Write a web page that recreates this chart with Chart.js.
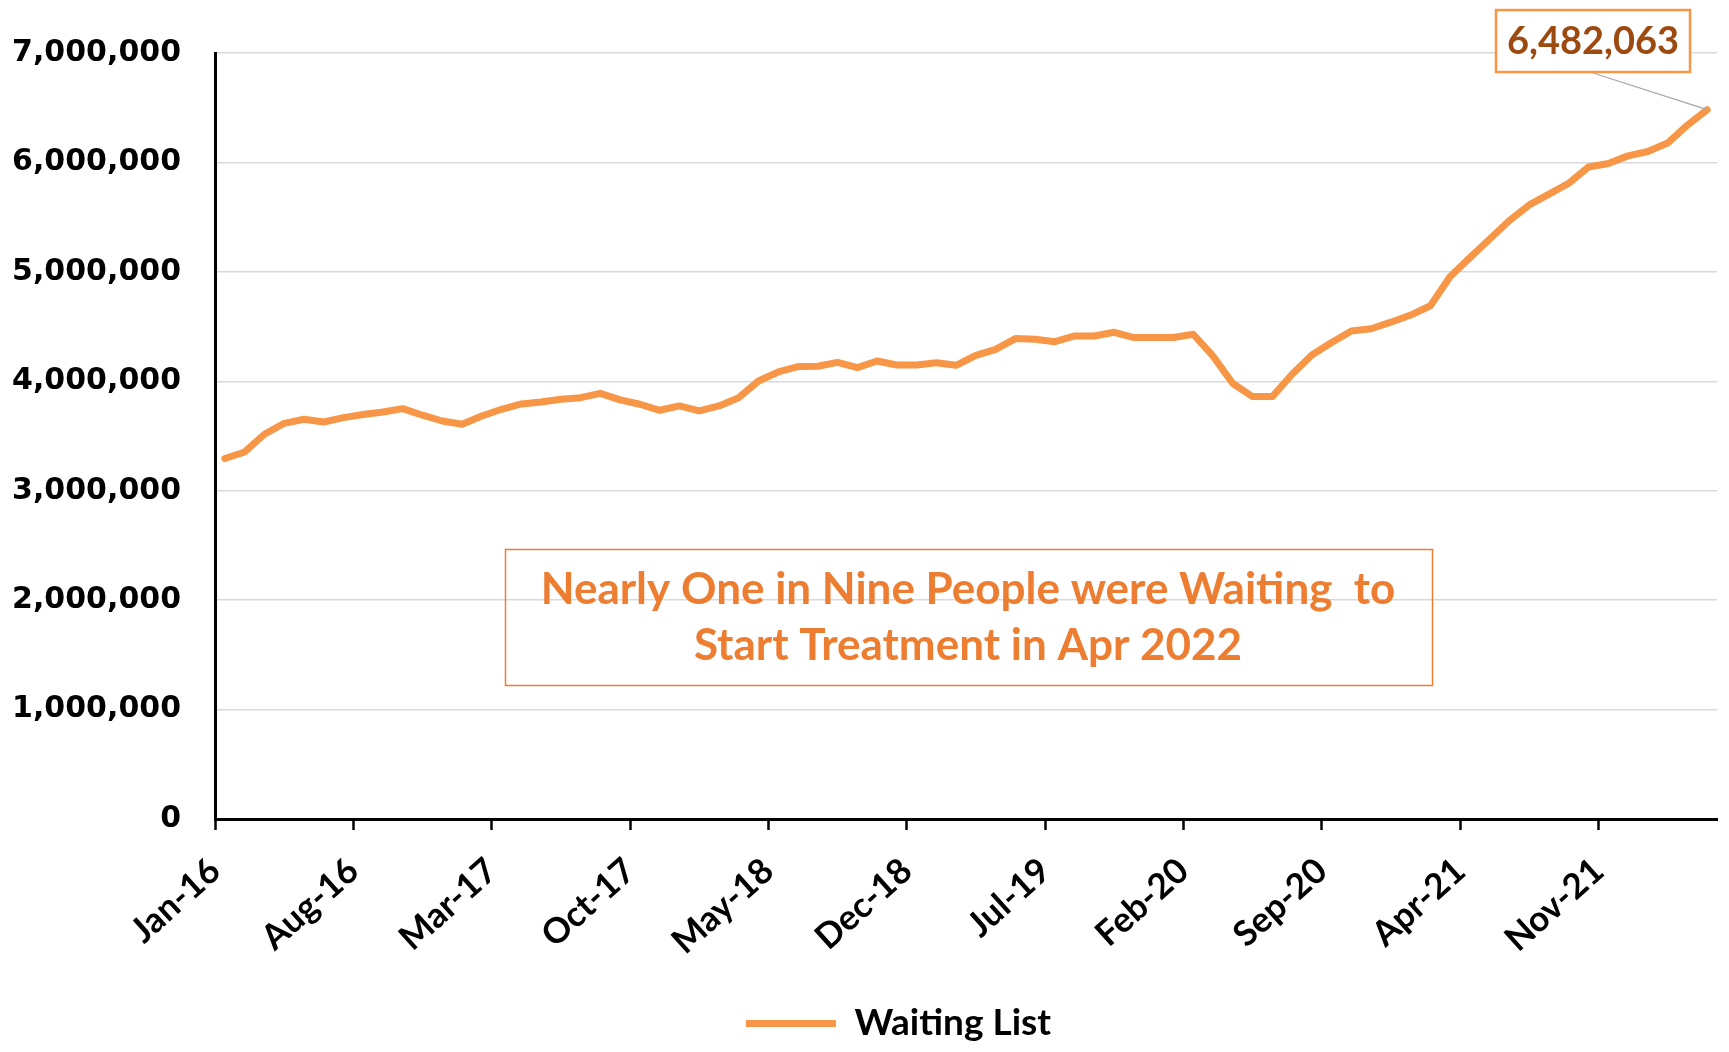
<!DOCTYPE html>
<html>
<head>
<meta charset="utf-8">
<title>Waiting List</title>
<script src="https://cdn.jsdelivr.net/npm/chart.js@4.4.1/dist/chart.umd.min.js"></script>
<style>
  html, body { margin: 0; padding: 0; background: #fff; }
  #wrap { width: 1729px; height: 1052px; }
</style>
</head>
<body>
<div id="wrap"><canvas id="chart" width="1729" height="1052"></canvas></div>
<script>
// monthly categories, Jan-16 .. Apr-22
const months = [
  'Jan-16', 'Feb-16', 'Mar-16', 'Apr-16', 'May-16', 'Jun-16', 'Jul-16', 'Aug-16', 'Sep-16', 'Oct-16', 'Nov-16', 'Dec-16',
  'Jan-17', 'Feb-17', 'Mar-17', 'Apr-17', 'May-17', 'Jun-17', 'Jul-17', 'Aug-17', 'Sep-17', 'Oct-17', 'Nov-17', 'Dec-17',
  'Jan-18', 'Feb-18', 'Mar-18', 'Apr-18', 'May-18', 'Jun-18', 'Jul-18', 'Aug-18', 'Sep-18', 'Oct-18', 'Nov-18', 'Dec-18',
  'Jan-19', 'Feb-19', 'Mar-19', 'Apr-19', 'May-19', 'Jun-19', 'Jul-19', 'Aug-19', 'Sep-19', 'Oct-19', 'Nov-19', 'Dec-19',
  'Jan-20', 'Feb-20', 'Mar-20', 'Apr-20', 'May-20', 'Jun-20', 'Jul-20', 'Aug-20', 'Sep-20', 'Oct-20', 'Nov-20', 'Dec-20',
  'Jan-21', 'Feb-21', 'Mar-21', 'Apr-21', 'May-21', 'Jun-21', 'Jul-21', 'Aug-21', 'Sep-21', 'Oct-21', 'Nov-21', 'Dec-21',
  'Jan-22', 'Feb-22', 'Mar-22', 'Apr-22'
];

const waitingList = [
  3294000, 3354000, 3516000, 3616000, 3653000, 3628000, 3668000, 3696000, 3720000, 3750000, 3690000, 3637000,
  3607000, 3683000, 3744000, 3793000, 3810000, 3836000, 3850000, 3890000, 3830000, 3790000, 3735000, 3775000,
  3730000, 3775000, 3850000, 4003000, 4085000, 4134000, 4137000, 4173000, 4125000, 4185000, 4149000, 4149000,
  4170000, 4146000, 4237000, 4292000, 4390000, 4384000, 4362000, 4414000, 4414000, 4448000, 4400000, 4400000,
  4400000, 4430000, 4230000, 3980000, 3860000, 3860000, 4064000, 4240000, 4355000, 4460000, 4480000, 4540000,
  4605000, 4690000, 4958000, 5130000, 5300000, 5470000, 5612000, 5710000, 5810000, 5958000, 5990000, 6060000,
  6100000, 6177000, 6340000, 6482063
];

const labelEvery = 7; // one axis label every 7 months
const noteLines = ['Nearly One in Nine People were Waiting  to', 'Start Treatment in Apr 2022'];

const ORANGE = '#F79646';
const ORANGE_TEXT = '#ED7D31';

const fmt = v => Number(v).toLocaleString('en-US');

// legend sits a bit right of the page centre in the original
const legendShift = {
  id: 'legendShift',
  afterLayout(chart) {
    chart.legend.left += 40;
    chart.legend.right += 40;
  }
};

// text boxes drawn on top of the chart
const notesPlugin = {
  id: 'notes',
  afterDraw(chart) {
    const ctx = chart.ctx;
    ctx.save();

    // middle note
    ctx.strokeStyle = ORANGE_TEXT;
    ctx.lineWidth = 1.5;
    ctx.strokeRect(505.5, 549.5, 927, 136);
    ctx.fillStyle = ORANGE_TEXT;
    ctx.font = 'bold 44px Lato';
    ctx.textAlign = 'center';
    ctx.textBaseline = 'middle';
    ctx.fillText(noteLines[0], 968, 590);
    ctx.fillText(noteLines[1], 968, 646);

    // callout on the last point
    const last = waitingList.length - 1;
    const pt = chart.getDatasetMeta(0).data[last];
    ctx.strokeStyle = '#A6A6A6';
    ctx.lineWidth = 1.2;
    ctx.beginPath();
    ctx.moveTo(1593, 73);
    ctx.lineTo(pt.x, pt.y);
    ctx.stroke();

    ctx.fillStyle = '#fff';
    ctx.fillRect(1495, 9, 196, 64);
    ctx.strokeStyle = ORANGE;
    ctx.lineWidth = 2.5;
    ctx.strokeRect(1496, 10, 194, 62);
    ctx.fillStyle = '#9C4A10';
    ctx.font = 'bold 38px Lato';
    ctx.fillText(fmt(waitingList[last]), 1593, 42);

    ctx.restore();
  }
};

Chart.defaults.font.family = 'Lato';
Chart.defaults.color = '#000';

new Chart(document.getElementById('chart'), {
  type: 'line',
  data: {
    datasets: [{
      label: 'Waiting List',
      data: waitingList.map((v, i) => ({ x: i + 0.5, y: v })),
      borderColor: ORANGE,
      backgroundColor: ORANGE,
      borderWidth: 7,
      borderCapStyle: 'round',
      borderJoinStyle: 'round',
      pointRadius: 0,
      pointStyle: 'line',
      tension: 0
    }]
  },
  options: {
    responsive: false,
    animation: false,
    layout: { padding: { top: 53, right: 12, left: 0, bottom: 0 } },
    plugins: {
      tooltip: { enabled: false },
      legend: {
        position: 'bottom',
        labels: {
          usePointStyle: true,
          pointStyleWidth: 90,
          padding: 6,
          color: '#000',
          font: { size: 37, weight: 'bold', family: 'Lato' }
        }
      }
    },
    scales: {
      x: {
        type: 'linear',
        min: 0,
        max: months.length,
        afterFit: s => { s.height = 180; },
        border: { display: true, color: '#000', width: 3 },
        grid: {
          drawOnChartArea: false,
          drawTicks: true,
          tickLength: 11,
          tickColor: '#000',
          tickWidth: 2.5
        },
        ticks: {
          stepSize: labelEvery,
          includeBounds: false,
          autoSkip: false,
          maxRotation: 42,
          minRotation: 42,
          padding: 20,
          color: '#000',
          font: { size: 35, weight: 'bold', family: 'Lato' },
          callback: v => months[v] || ''
        }
      },
      y: {
        min: 0,
        max: 7000000,
        afterFit: s => { s.width = 215; },
        border: { display: true, color: '#000', width: 3 },
        grid: { color: '#D9D9D9', lineWidth: 1.5, drawTicks: false },
        ticks: {
          stepSize: 1000000,
          padding: 34,
          color: '#000',
          font: { size: 30, weight: 'bold', family: 'DejaVu Sans' },
          callback: v => fmt(v)
        }
      }
    }
  },
  plugins: [legendShift, notesPlugin]
});
</script>
</body>
</html>
